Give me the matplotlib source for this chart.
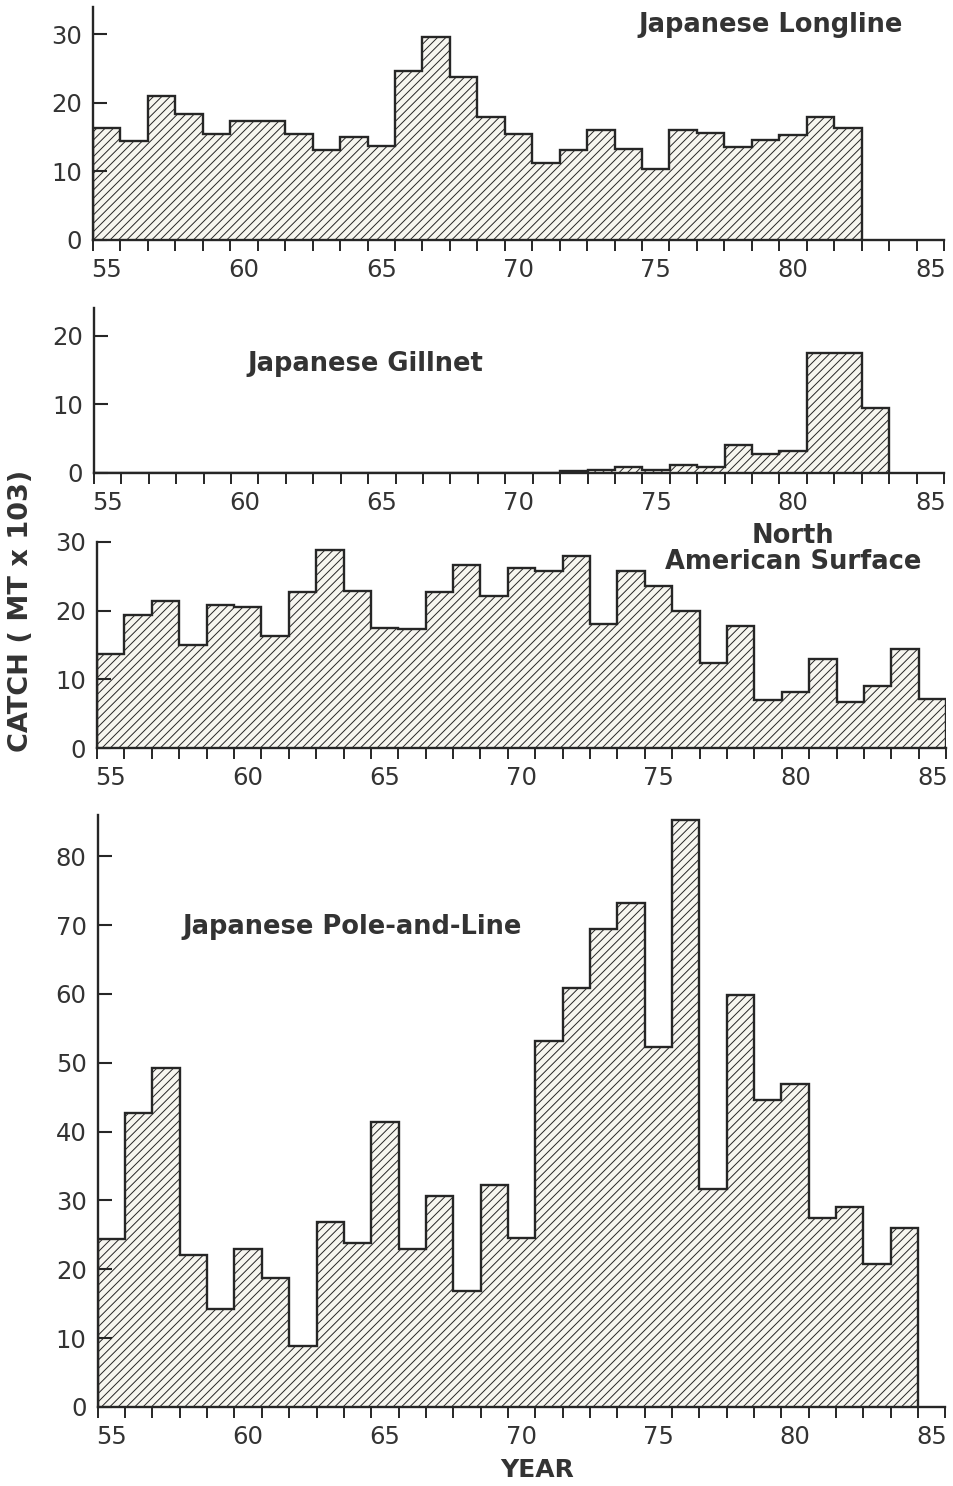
import numpy as np
import matplotlib.pyplot as plt

plt.rcParams['font.family'] = 'DejaVu Sans'
plt.rcParams['hatch.linewidth'] = 0.7

# catch (MT x 10^3) by year, first bar is 1955
longline = [16.4, 14.4, 21.0, 18.4, 15.5, 17.4, 17.4, 15.5, 13.2, 15.0,
            13.7, 24.7, 29.6, 23.8, 18.0, 15.5, 11.2, 13.1, 16.1, 13.3,
            10.4, 16.0, 15.6, 13.5, 14.6, 15.3, 18.0, 16.3]
gillnet = [0] * 17 + [0.3, 0.4, 0.8, 0.4, 1.1, 0.8, 4.1, 2.8, 3.2, 17.5, 17.5, 9.5]
surface = [13.7, 19.4, 21.4, 15.0, 20.8, 20.6, 16.3, 22.7, 28.9, 22.8,
           17.5, 17.3, 22.7, 26.6, 22.2, 26.2, 25.7, 27.9, 18.0, 25.7,
           23.6, 20.0, 12.4, 17.7, 7.0, 8.2, 12.9, 6.7, 9.1, 14.4, 7.2]
pole_line = [24.4, 42.7, 49.2, 22.1, 14.3, 23.0, 18.7, 8.9, 26.9, 23.8,
             41.4, 22.9, 30.7, 16.8, 32.2, 24.5, 53.2, 60.8, 69.4, 73.2,
             52.3, 85.2, 31.7, 59.9, 44.6, 46.9, 27.5, 29.1, 20.8, 26.0]

year_labels = [55, 60, 65, 70, 75, 80, 85]
INK = '#262626'
TXT = '#333333'


def panel(fig, rect, vals, ytop, yticks):
    ax = fig.add_axes(rect)
    v = np.asarray(vals, dtype=float)
    edges = 54.5 + np.arange(len(v) + 1)
    ax.stairs(v, edges, baseline=0, fill=True, facecolor='#f7f6f0',
              edgecolor=INK, hatch='////', linewidth=0)
    ax.stairs(v, edges, baseline=0, fill=False, color=INK, linewidth=1.7)
    ax.set_xlim(54.5, 85.5)
    ax.set_ylim(0, ytop)
    for s in ('top', 'right'):
        ax.spines[s].set_visible(False)
    for s in ('left', 'bottom'):
        ax.spines[s].set_linewidth(1.7)
        ax.spines[s].set_color(INK)
    ax.set_xticks(year_labels)
    ax.set_xticks(np.arange(54.5, 86, 1), minor=True)
    ax.tick_params(axis='x', which='major', length=0, pad=13,
                   labelsize=17.5, labelcolor=TXT)
    ax.tick_params(axis='x', which='minor', length=8, width=1.4,
                   direction='out', color=INK)
    ax.set_yticks(yticks)
    ax.tick_params(axis='y', which='major', length=10, width=1.5,
                   direction='in', color=INK, pad=8,
                   labelsize=17.5, labelcolor=TXT)
    return ax


fig = plt.figure(figsize=(9.54, 14.86), dpi=100)

lab = dict(fontsize=18.5, fontweight='bold', color=TXT, ha='center', va='center')

ax1 = panel(fig, [0.0975, 0.8385, 0.892, 0.1568], longline, 34, [0, 10, 20, 30])
ax1.text(79.2, 31.4, 'Japanese Longline', **lab)

ax2 = panel(fig, [0.0985, 0.6817, 0.891, 0.111], gillnet, 24, [0, 10, 20])
ax2.text(64.4, 15.9, 'Japanese Gillnet', **lab)

ax3 = panel(fig, [0.1017, 0.4966, 0.890, 0.1387], surface, 30, [0, 10, 20, 30])
ax3.text(79.9, 29.0, 'North\nAmerican Surface', linespacing=1.0,
         multialignment='center', clip_on=False, **lab)

ax4 = panel(fig, [0.1025, 0.0532, 0.8885, 0.3984], pole_line, 86,
            list(range(0, 81, 10)))
ax4.text(63.8, 69.7, 'Japanese Pole-and-Line', **lab)

fig.text(0.0215, 0.589, 'CATCH ( MT x 103)', rotation=90, fontsize=19.5,
         fontweight='bold', color=TXT, ha='center', va='center')
fig.text(0.563, 0.0107, 'YEAR', fontsize=18, fontweight='bold', color=TXT,
         ha='center', va='center')

fig.savefig('out.png', dpi=100)
